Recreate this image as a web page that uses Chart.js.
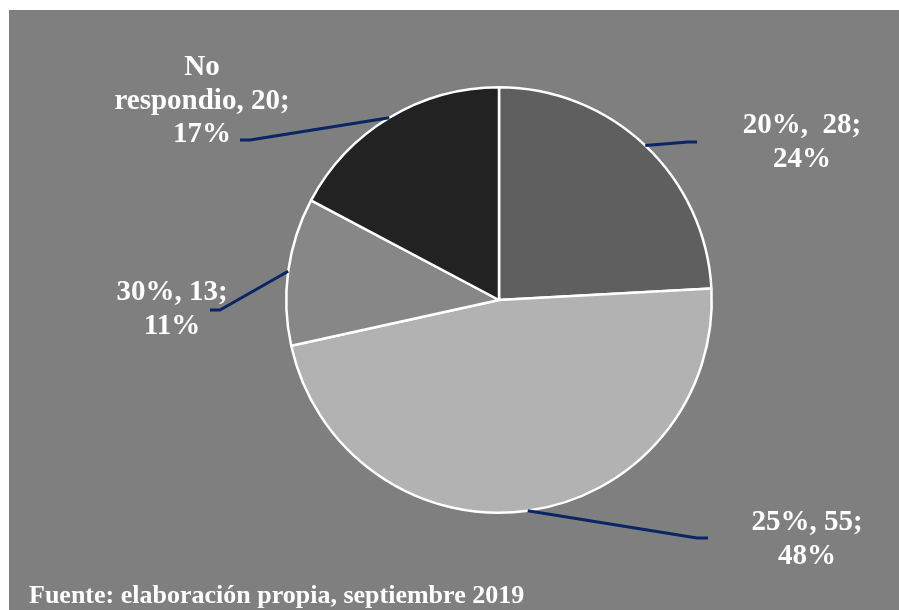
<!DOCTYPE html>
<html>
<head>
<meta charset="utf-8">
<script src="https://cdn.jsdelivr.net/npm/chart.js@4"></script>
<style>
  html, body { margin: 0; padding: 0; background: #ffffff; overflow: hidden; }
  #wrap { width: 899px; height: 610px; position: relative; }
</style>
</head>
<body>
<div id="wrap"><canvas id="pieChart" width="899" height="610"></canvas></div>
<script>
const categories = ["20%", "25%", "30%", "No respondio"];
const values = [28, 55, 13, 20];
const percentLabels = ["24%", "48%", "11%", "17%"];
const sliceColors = ["#5f5f5f", "#b2b2b2", "#878787", "#222222"];
const sourceNote = "Fuente: elaboración propia, septiembre 2019";

// text lines for each slice label
const labelLines = [
  [categories[0] + ",  " + values[0] + ";", percentLabels[0]],
  [categories[1] + ", " + values[1] + ";", percentLabels[1]],
  [categories[2] + ", " + values[2] + ";", percentLabels[2]],
  ["No", "respondio, " + values[3] + ";", percentLabels[3]],
];

// where each label sits and where its leader line bends
const labelLayout = [
  { x: 802, y: 126, bend: [688, 142], end: [697, 142] },
  { x: 807, y: 523, bend: [697, 538], end: [708, 538] },
  { x: 172, y: 293, bend: [220, 310], end: [210, 310] },
  { x: 202, y: 68, bend: [250, 140], end: [240, 140] },
];
const lineGap = 33.5;

const backdrop = {
  id: "backdrop",
  beforeDraw(chart) {
    const ctx = chart.ctx;
    ctx.save();
    ctx.fillStyle = "#ffffff";
    ctx.fillRect(0, 0, chart.width, chart.height);
    ctx.fillStyle = "#7f7f7f";
    ctx.fillRect(9, 10, chart.width - 9, chart.height - 10);
    ctx.restore();
  },
};

const sliceLabels = {
  id: "sliceLabels",
  afterDraw(chart) {
    const ctx = chart.ctx;
    const arcs = chart.getDatasetMeta(0).data;
    ctx.save();
    arcs.forEach((arc, i) => {
      const lay = labelLayout[i];
      const mid = (arc.startAngle + arc.endAngle) / 2;
      const sx = arc.x + Math.cos(mid) * arc.outerRadius;
      const sy = arc.y + Math.sin(mid) * arc.outerRadius;
      ctx.strokeStyle = "#0b2466";
      ctx.lineWidth = 3;
      ctx.lineJoin = "round";
      ctx.beginPath();
      ctx.moveTo(sx, sy);
      ctx.lineTo(lay.bend[0], lay.bend[1]);
      ctx.lineTo(lay.end[0], lay.end[1]);
      ctx.stroke();

      ctx.fillStyle = "#ffffff";
      ctx.font = "bold 29px 'Liberation Serif', 'Times New Roman', serif";
      ctx.textAlign = "center";
      ctx.textBaseline = "middle";
      labelLines[i].forEach((line, k) => {
        ctx.fillText(line, lay.x, lay.y + k * lineGap);
      });
    });

    ctx.font = "bold 26px 'Liberation Serif', 'Times New Roman', serif";
    ctx.textAlign = "left";
    ctx.textBaseline = "alphabetic";
    ctx.fillText(sourceNote, 29, 603);
    ctx.restore();
  },
};

new Chart(document.getElementById("pieChart").getContext("2d"), {
  type: "pie",
  data: {
    labels: categories,
    datasets: [
      {
        data: values,
        backgroundColor: sliceColors,
        borderColor: "#ffffff",
        borderWidth: 2.5,
      },
    ],
  },
  options: {
    responsive: false,
    animation: false,
    layout: { padding: { left: 285, right: 186, top: 86, bottom: 96 } },
    plugins: {
      legend: { display: false },
      tooltip: { enabled: false },
    },
  },
  plugins: [backdrop, sliceLabels],
});
</script>
</body>
</html>
